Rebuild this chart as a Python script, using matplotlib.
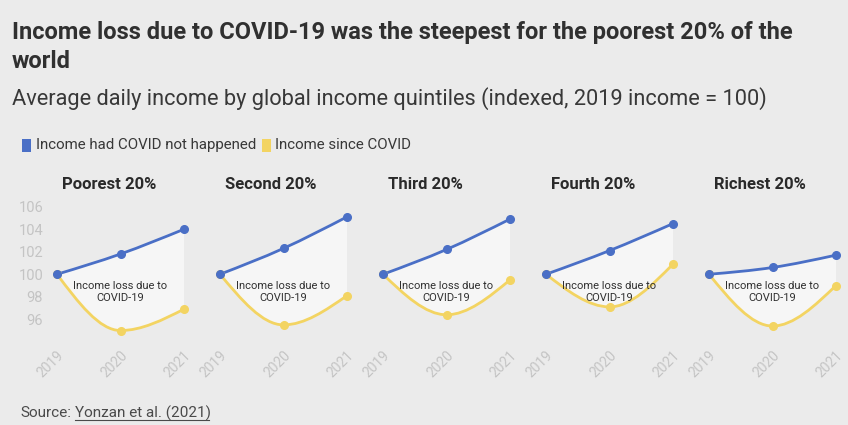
import numpy as np
import matplotlib
matplotlib.use("Agg")
import matplotlib.pyplot as plt
from matplotlib.path import Path
from matplotlib.patches import PathPatch, Rectangle

# data
years = ["2019", "2020", "2021"]
groups = ["Poorest 20%", "Second 20%", "Third 20%", "Fourth 20%", "Richest 20%"]
no_covid = [
    [100, 101.8, 104.0],
    [100, 102.3, 105.1],
    [100, 102.2, 104.9],
    [100, 102.1, 104.5],
    [100, 100.6, 101.7],
]
since_covid = [
    [100, 95.0, 96.9],
    [100, 95.5, 98.1],
    [100, 96.4, 99.5],
    [100, 97.1, 100.9],
    [100, 95.4, 99.0],
]
yticks = [96, 98, 100, 102, 104, 106]

BLUE = "#4a6fc6"
YELLOW = "#f3d462"
BG = "#ebebeb"

plt.rcParams["font.family"] = ["Roboto", "DejaVu Sans"]


def monotone_verts(x, y):
    # d3 curveMonotoneX as cubic bezier segments
    x = np.asarray(x, float)
    y = np.asarray(y, float)
    n = len(x)
    h = np.diff(x)
    s = np.diff(y) / h
    t = np.zeros(n)
    for i in range(1, n - 1):
        p = (s[i - 1] * h[i] + s[i] * h[i - 1]) / (h[i - 1] + h[i])
        t[i] = (np.sign(s[i - 1]) + np.sign(s[i])) * min(abs(s[i - 1]), abs(s[i]), 0.5 * abs(p))
    t[0] = (3 * s[0] - t[1]) / 2
    t[-1] = (3 * s[-1] - t[-2]) / 2
    verts = [(x[0], y[0])]
    codes = [Path.MOVETO]
    for i in range(n - 1):
        dx = h[i]
        verts += [(x[i] + dx / 3, y[i] + dx * t[i] / 3),
                  (x[i + 1] - dx / 3, y[i + 1] - dx * t[i + 1] / 3),
                  (x[i + 1], y[i + 1])]
        codes += [Path.CURVE4] * 3
    return verts, codes


fig = plt.figure(figsize=(8.48, 4.25), dpi=100)
fig.patch.set_facecolor(BG)

W, H = 848, 425
fig.text(12 / W, 1 - 33 / H, "Income loss due to COVID-19 was the steepest for the poorest 20% of the",
         fontsize=17, fontweight="bold", color="#303030", va="center", ha="left")
fig.text(12 / W, 1 - 62 / H, "world",
         fontsize=17, fontweight="bold", color="#303030", va="center", ha="left")
fig.text(12 / W, 1 - 99 / H, "Average daily income by global income quintiles (indexed, 2019 income = 100)",
         fontsize=15.7, color="#383838", va="center", ha="left")

# legend
fig.patches.append(Rectangle((22 / W, 1 - 152 / H), 9 / W, 13 / H, transform=fig.transFigure,
                             facecolor=BLUE, edgecolor="none"))
fig.text(36 / W, 1 - 145 / H, "Income had COVID not happened", fontsize=10.8, color="#383838",
         va="center", ha="left")
fig.patches.append(Rectangle((262 / W, 1 - 152 / H), 9 / W, 13 / H, transform=fig.transFigure,
                             facecolor=YELLOW, edgecolor="none"))
fig.text(275 / W, 1 - 145 / H, "Income since COVID", fontsize=10.8, color="#383838",
         va="center", ha="left")

ylo, yhi = 94, 106
top_px, bot_px = 206.7, 341.8
xs = np.arange(len(years))

for i, g in enumerate(groups):
    left_px = 57 + 163 * i
    ax = fig.add_axes([left_px / W, 1 - bot_px / H, 127 / W, (bot_px - top_px) / H])
    ax.set_facecolor("none")
    ax.set_xlim(0, 2)
    ax.set_ylim(ylo, yhi)
    for sp in ax.spines.values():
        sp.set_visible(False)

    bv, bc = monotone_verts(xs, no_covid[i])
    yv, yc = monotone_verts(xs[::-1], since_covid[i][::-1])
    fill_path = Path(bv + yv + [bv[0]], bc + [Path.LINETO] + yc[1:] + [Path.CLOSEPOLY])
    ax.add_patch(PathPatch(fill_path, facecolor="white", alpha=0.6, edgecolor="none", zorder=1))

    ax.add_patch(PathPatch(Path(*monotone_verts(xs, since_covid[i])), facecolor="none",
                           edgecolor=YELLOW, lw=2, zorder=2, clip_on=False))
    ax.add_patch(PathPatch(Path(bv, bc), facecolor="none", edgecolor=BLUE, lw=2, zorder=3,
                           clip_on=False))
    ax.plot(xs, since_covid[i], "o", color=YELLOW, ms=5.5, zorder=4, clip_on=False)
    ax.plot(xs, no_covid[i], "o", color=BLUE, ms=5.5, zorder=5, clip_on=False)

    ax.text(1, 98.4, "Income loss due to\nCOVID-19", fontsize=8, color="#303030",
            ha="center", va="center", zorder=6, linespacing=1.3)

    ax.text(0.04, 1.165, g, transform=ax.transAxes, fontsize=12, fontweight="bold",
            color="#2a2a2a", ha="left", va="center")

    ax.set_xticks(xs)
    ax.set_xticklabels(years, rotation=45, ha="right", rotation_mode="anchor",
                       fontsize=10, color="#c4c4c4")
    ax.tick_params(axis="x", length=0, pad=5)
    ax.set_yticks(yticks)
    ax.tick_params(axis="y", length=0)
    if i == 0:
        ax.set_yticklabels([str(v) for v in yticks], fontsize=10.5, color="#c4c4c4")
        ax.tick_params(axis="y", pad=10)
    else:
        ax.set_yticklabels([])

fig.text(20 / W, 1 - 413 / H, "Source:", fontsize=11, color="#4a4a4a", va="center", ha="left")
fig.text(75 / W, 1 - 413 / H, "Yonzan et al. (2021)", fontsize=11, color="#4a4a4a",
         va="center", ha="left")
fig.lines.append(plt.Line2D([75 / W, 209 / W], [1 - 420 / H, 1 - 420 / H],
                            transform=fig.transFigure, color="#4a4a4a", lw=0.8))

fig.savefig("out.png", dpi=100, facecolor=BG)
